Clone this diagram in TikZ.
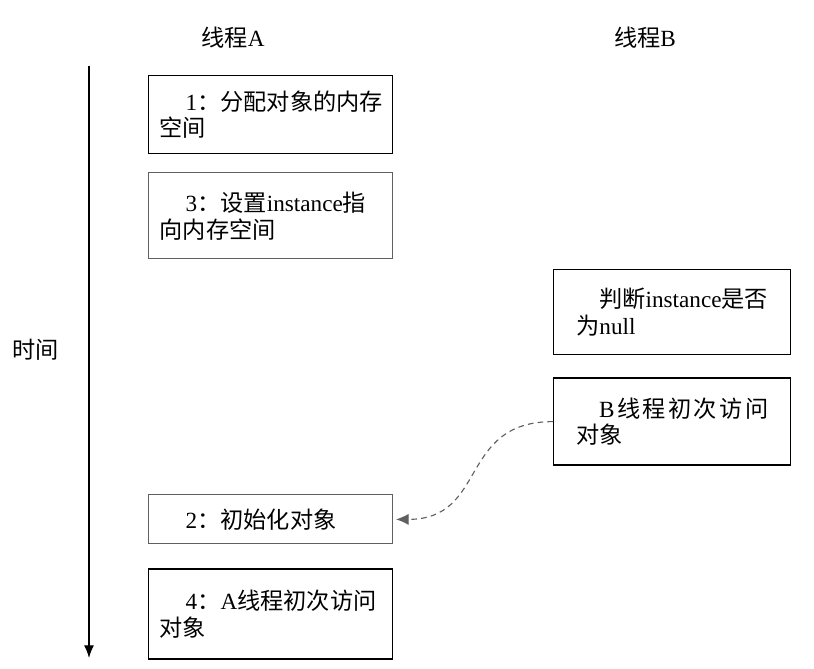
\documentclass[tikz,border=0pt]{standalone}
\usepackage{fontspec}
\setmainfont{Liberation Serif}
\newfontfamily\zh{Noto Sans CJK SC}
\usetikzlibrary{positioning}
\usetikzlibrary{arrows.meta}

\tikzset{
    stepbox/.style={draw=black, line width=1pt, minimum width=6.1cm, text width=5.55cm,
        align=left, inner xsep=0.275cm, inner ysep=0pt,
        font=\fontsize{16.5pt}{19pt}\selectfont},
    greybox/.style={stepbox, draw=gray!75!black, line width=0.7pt},
    bbox/.style={stepbox, minimum width=5.925cm, text width=4.8cm},
    head/.style={font=\zh\fontsize{16.5pt}{19pt}\selectfont},
    timeline/.style={line width=0.8pt, -{Latex[length=9pt,width=7pt]}},
    jump/.style={dashed, dash pattern=on 4pt off 3pt, gray!75!black, line width=0.8pt,
        -{Latex[length=9pt,width=8pt]}, shorten >=2pt}
}

\begin{document}
\begin{tikzpicture}
    \useasboundingbox (0,0) rectangle (20.35,-16.7);
    \node[head] (hA) at (5.825,-0.95) {线程\rmfamily A};
    \node[head] (hB) at (16.125,-0.95) {线程\rmfamily B};
    \node[head] (time) at (0.9,-8.75) {时间};
    \coordinate (tTop) at (2.225,-1.65);
    \coordinate (tBot) at (2.225,-16.45);
    \node[stepbox, minimum height=1.95cm, anchor=north west] (n1) at (3.7,-1.875) {
        \hspace*{0.65cm}1{\zh ：分配对象的内存}\\
        {\zh 空间}
    };
    \node[greybox, minimum height=2.15cm, below=0.45cm of n1] (n3) {
        \hspace*{0.65cm}3{\zh ：设置}instance{\zh 指}\\
        {\zh 向内存空间}
    };
    \node[greybox, minimum height=1.225cm, below=5.875cm of n3] (n2) {
        \hspace*{0.65cm}2{\zh ：初始化对象}
    };
    \node[stepbox, minimum height=2.25cm, below=0.6cm of n2] (n4) {
        \hspace*{0.65cm}4{\zh ：}A{\zh 线程初次访问}\\
        {\zh 对象}
    };
    \node[bbox, minimum height=2.125cm, anchor=north west] (nChk) at (13.825,-6.725) {
        \hspace*{0.575cm}{\zh 判断}instance{\zh 是否}\\
        {\zh 为}null
    };
    \node[bbox, minimum height=2.175cm, below=0.55cm of nChk] (nB) {
        \hspace*{0.575cm}B\hfill{\zh 线}\hfill{\zh 程}\hfill{\zh 初}\hfill{\zh 次}\hfill{\zh 访}\hfill{\zh 问}\\
        {\zh 对象}
    };
    \draw[timeline] (tTop) -- (tBot);
    \draw[jump] (nB.west) to[out=180, in=0, looseness=1.3] (n2.east);
\end{tikzpicture}
\end{document}
